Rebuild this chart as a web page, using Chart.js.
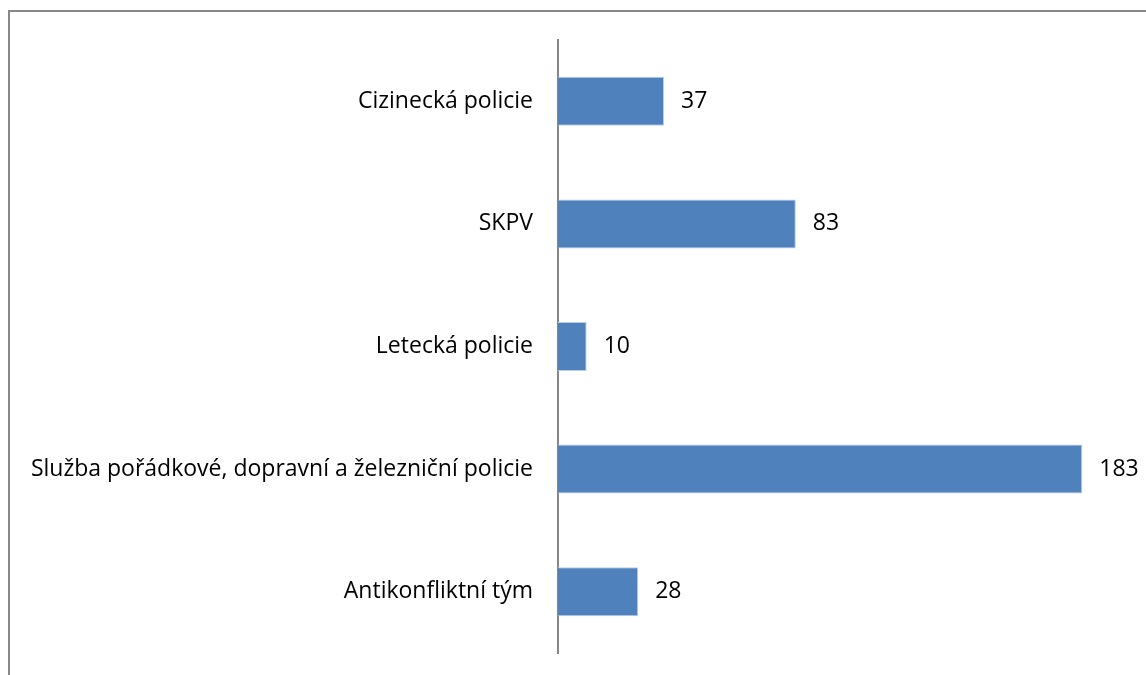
<!DOCTYPE html>
<html>
<head>
<meta charset="utf-8">
<script src="https://cdn.jsdelivr.net/npm/chart.js@4/dist/chart.umd.min.js"></script>
<style>
  html, body { margin: 0; padding: 0; background: #fff; }
  #wrap { position: relative; width: 1146px; height: 675px; }
  #frame { position: absolute; left: 8px; top: 10px; right: 0; bottom: 0;
           border-top: 2px solid #888; border-left: 2px solid #888; pointer-events: none; }
  #c { position: absolute; left: 0; top: 0; }
</style>
</head>
<body>
<div id="wrap">
  <canvas id="c" width="1146" height="675"></canvas>
  <div id="frame"></div>
</div>
<script>
var categories = ["Cizinecká policie", "SKPV", "Letecká policie", "Služba pořádkové, dopravní a železniční policie", "Antikonfliktní tým"];
var counts = [37, 83, 10, 183, 28];
var axisMax = 200;

var labelFont = { family: "'Open Sans', 'Noto Sans', sans-serif", size: 23 };

// value labels at the end of each bar
var valueLabels = {
  id: 'valueLabels',
  afterDatasetsDraw: function(chart) {
    var ctx = chart.ctx;
    var meta = chart.getDatasetMeta(0);
    ctx.save();
    ctx.fillStyle = '#000';
    ctx.font = labelFont.size + 'px ' + labelFont.family;
    ctx.textAlign = 'left';
    ctx.textBaseline = 'middle';
    meta.data.forEach(function(bar, i) {
      ctx.fillText(String(counts[i]), bar.x + 17, bar.y);
    });
    ctx.restore();
  }
};

var ctx = document.getElementById('c').getContext('2d');
var chart = new Chart(ctx, {
  type: 'bar',
  data: {
    labels: categories,
    datasets: [{
      data: counts,
      backgroundColor: '#4f81bd',
      borderColor: '#b9cde5',
      borderWidth: 1,
      borderSkipped: 'start',
      barPercentage: 0.4,
      categoryPercentage: 1
    }]
  },
  options: {
    indexAxis: 'y',
    responsive: false,
    animation: false,
    layout: { padding: { top: 40, bottom: 22, left: 0, right: 15 } },
    plugins: { legend: { display: false }, tooltip: { enabled: false } },
    scales: {
      x: {
        display: false,
        min: 0,
        max: axisMax
      },
      y: {
        afterFit: function(scale) {
          scale.width = 558;
          scale.paddingTop = 0;
          scale.paddingBottom = 0;
        },
        grid: { display: false, drawTicks: false },
        border: { display: true, color: '#868686', width: 2 },
        ticks: { color: '#000', font: labelFont, padding: 25 }
      }
    }
  },
  plugins: [valueLabels]
});
</script>
</body>
</html>
